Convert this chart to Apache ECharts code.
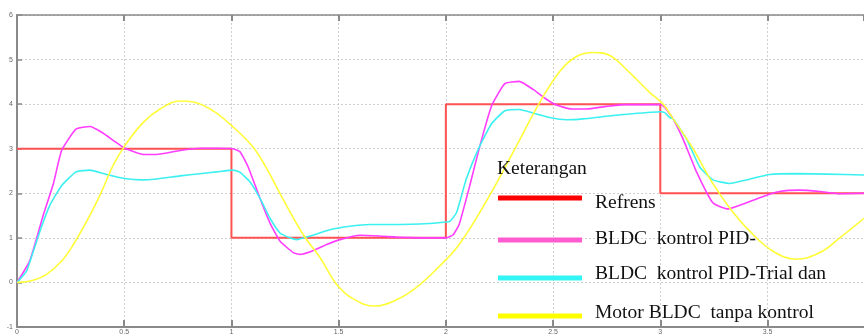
<!DOCTYPE html>
<html>
<head>
<meta charset="utf-8">
<script src="https://cdn.jsdelivr.net/npm/echarts@6/dist/echarts.min.js"></script>
<style>
  html, body { margin: 0; padding: 0; background: #fff; }
  #chart { width: 864px; height: 336px; }
</style>
</head>
<body>
<div id="chart"></div>
<script>
// reference step input
const refT = [0, 1, 2, 3, 3.95];
const refY = [3, 1, 4, 2, 2];

// BLDC kontrol PID-
const pidT = [0, 0.06, 0.123, 0.17, 0.208, 0.275, 0.34, 0.395, 0.457, 0.503, 0.589, 0.651, 0.76, 0.853, 0.931, 1.008,
  1.04, 1.078, 1.133, 1.18, 1.226, 1.288, 1.32, 1.374, 1.444, 1.506, 1.6, 1.69, 1.786, 1.88, 2.003,
  2.034, 2.062, 2.112, 2.159, 2.213, 2.275, 2.342, 2.407, 2.469, 2.516, 2.586, 2.656, 2.749, 2.827, 3.0,
  3.02, 3.044, 3.06, 3.106, 3.169, 3.246, 3.316, 3.386, 3.48, 3.557, 3.65, 3.744, 3.837, 3.95];
const pidY = [0, 0.49, 1.52, 2.22, 2.96, 3.44, 3.5, 3.37, 3.16, 3.01, 2.87, 2.87, 2.96, 3.01, 3.01, 3.0,
  2.93, 2.59, 1.89, 1.33, 0.93, 0.67, 0.63, 0.7, 0.85, 0.96, 1.06, 1.04, 1.01, 1.0, 1.0,
  1.07, 1.3, 2.18, 3.07, 3.96, 4.46, 4.51, 4.33, 4.11, 3.98, 3.89, 3.89, 3.95, 3.99, 3.99,
  3.93, 3.78, 3.67, 3.22, 2.48, 1.78, 1.65, 1.76, 1.93, 2.04, 2.07, 2.04, 1.99, 2.0];

// BLDC kontrol PID-Trial dan error
const trialT = [0, 0.045, 0.107, 0.154, 0.208, 0.275, 0.34, 0.418, 0.503, 0.581, 0.651, 0.76, 0.853, 0.931, 1.008,
  1.04, 1.086, 1.133, 1.18, 1.226, 1.273, 1.304, 1.366, 1.459, 1.552, 1.646, 1.786, 1.879, 1.988, 2.019,
  2.05, 2.096, 2.159, 2.213, 2.275, 2.342, 2.407, 2.485, 2.563, 2.64, 2.749, 2.858, 3.0,
  3.021, 3.044, 3.06, 3.122, 3.184, 3.246, 3.324, 3.402, 3.51, 3.635, 3.775, 3.95];
const trialY = [0, 0.26, 1.15, 1.74, 2.17, 2.48, 2.52, 2.42, 2.33, 2.3, 2.32, 2.39, 2.44, 2.48, 2.52,
  2.47, 2.26, 1.89, 1.44, 1.11, 1.0, 0.96, 1.04, 1.18, 1.26, 1.3, 1.3, 1.31, 1.35, 1.37,
  1.57, 2.33, 3.07, 3.56, 3.85, 3.88, 3.8, 3.7, 3.65, 3.67, 3.73, 3.78, 3.83,
  3.81, 3.7, 3.67, 3.22, 2.59, 2.3, 2.22, 2.3, 2.42, 2.44, 2.43, 2.41];

// Motor BLDC tanpa kontrol
const openT = [0, 0.076, 0.138, 0.208, 0.263, 0.325, 0.387, 0.449, 0.503, 0.589, 0.667, 0.76, 0.822, 0.915, 0.993,
  1.095, 1.164, 1.226, 1.335, 1.413, 1.49, 1.568, 1.669, 1.77, 1.863, 1.957, 2.062,
  2.205, 2.33, 2.438, 2.532, 2.609, 2.687, 2.765, 2.858, 2.951, 3.013, 3.06, 3.153, 3.231,
  3.324, 3.417, 3.526, 3.635, 3.744, 3.837, 3.95];
const openY = [0, 0.05, 0.18, 0.48, 0.85, 1.37, 1.96, 2.63, 3.07, 3.59, 3.89, 4.07, 4.05, 3.85, 3.55,
  3.07, 2.56, 2.0, 1.07, 0.56, -0.04, -0.37, -0.53, -0.39, -0.11, 0.3, 0.85,
  1.96, 3.07, 4.04, 4.74, 5.07, 5.16, 5.09, 4.7, 4.26, 4.0, 3.67, 3.0, 2.33,
  1.67, 1.15, 0.7, 0.52, 0.67, 1.0, 1.44];

const xTickLabels = ['0', '0.5', '1', '1.5', '2', '2.5', '3', '3.5'];
const yTickLabels = ['-1', '0', '1', '2', '3', '4', '5', '6'];

const legendTitle = 'Keterangan';
const legendNames = ['Refrens', 'BLDC  kontrol PID-', 'BLDC  kontrol PID-Trial dan', 'Motor BLDC  tanpa kontrol'];
const legendColors = ['#ff0000', '#ff5ccf', '#33f5f5', '#ffff00'];

const zip = (t, y) => t.map((v, i) => [v, y[i]]);

const chart = echarts.init(document.getElementById('chart'));

const axisGray = '#8a8a8a';
const legendFont = '19.5px "Liberation Serif"';
const legendY = [198, 240, 278, 316];
const textY = [203, 239, 274, 313];

const legendGraphics = [
  {
    type: 'text', left: 497, top: 159, z: 100,
    style: { text: legendTitle, font: legendFont, fill: '#111' }
  }
];
legendNames.forEach((name, i) => {
  legendGraphics.push({
    type: 'rect', z: 100,
    shape: { x: 498, y: legendY[i] - 2.5, width: 84, height: 5 },
    style: { fill: legendColors[i] }
  });
  legendGraphics.push({
    type: 'text', x: 595, y: textY[i], z: 100,
    style: { text: name, font: legendFont, fill: '#111', verticalAlign: 'middle' }
  });
});

chart.setOption({
  animation: false,
  backgroundColor: '#fff',
  grid: { left: 17, right: 0, top: 15, bottom: 6 },
  xAxis: [
    {
      type: 'value', min: 0, max: 3.95, interval: 0.5,
      axisLine: { onZero: false, lineStyle: { color: axisGray, width: 2 } },
      axisTick: { inside: true, length: 7, lineStyle: { color: axisGray, width: 2 } },
      axisLabel: {
        color: '#666', fontSize: 7, margin: 2, showMaxLabel: false,
        formatter: (v) => xTickLabels[Math.round(v / 0.5)] || ''
      },
      splitLine: { show: true, lineStyle: { color: '#cfcfcf', type: [2, 2], width: 1 } }
    },
    {
      type: 'value', min: 0, max: 3.95, interval: 0.5, position: 'top',
      axisLine: { show: true, onZero: false, lineStyle: { color: axisGray, width: 1.5 } },
      axisTick: { inside: true, length: 6, lineStyle: { color: axisGray, width: 2 } },
      axisLabel: { show: false },
      splitLine: { show: false }
    }
  ],
  yAxis: {
    type: 'value', min: -1, max: 6, interval: 1,
    axisLine: { show: true, onZero: false, lineStyle: { color: axisGray, width: 2 } },
    axisTick: { show: true, inside: true, length: 5, lineStyle: { color: axisGray, width: 1.5 } },
    axisLabel: {
      color: '#666', fontSize: 7, margin: 4,
      formatter: (v) => yTickLabels[Math.round(v + 1)]
    },
    splitLine: { show: true, lineStyle: { color: '#cfcfcf', type: [2, 2], width: 1 } }
  },
  series: [
    {
      name: legendNames[0], type: 'line', step: 'end', symbol: 'none',
      data: zip(refT, refY),
      lineStyle: { color: '#ff5252', width: 2 }
    },
    {
      name: legendNames[1], type: 'line', symbol: 'none', smooth: 0.15,
      data: zip(pidT, pidY),
      lineStyle: { color: '#ff3cff', width: 1.6 }
    },
    {
      name: legendNames[2], type: 'line', symbol: 'none', smooth: 0.15,
      data: zip(trialT, trialY),
      lineStyle: { color: '#3cf0f0', width: 1.6 }
    },
    {
      name: legendNames[3], type: 'line', symbol: 'none', smooth: 0.4,
      data: zip(openT, openY),
      lineStyle: { color: '#ffff38', width: 1.6 }
    }
  ],
  graphic: legendGraphics
});
</script>
</body>
</html>
